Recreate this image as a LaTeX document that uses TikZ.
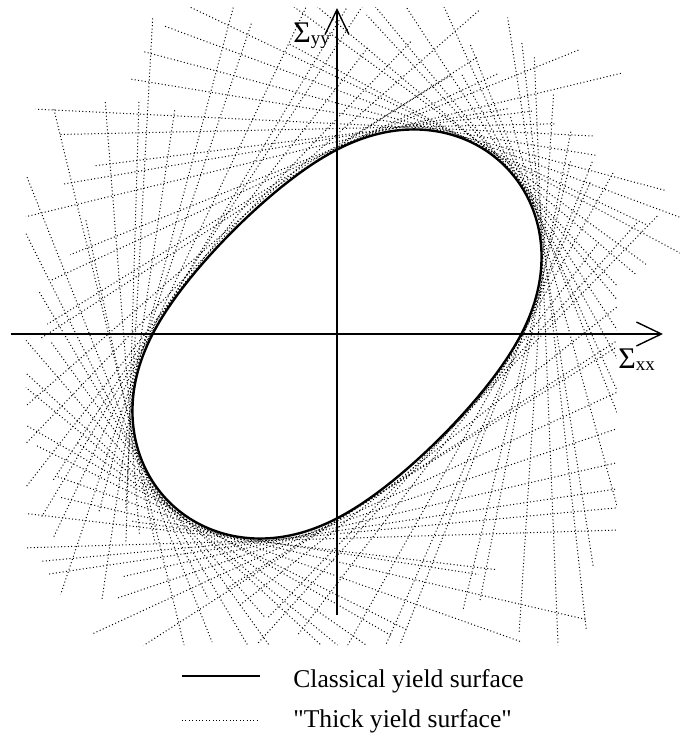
\documentclass[tikz,border=0pt]{standalone}
\usepackage{fontspec}
\newfontfamily\timesfont{Liberation Serif}
\usetikzlibrary{arrows.meta}

\tikzset{
  axis/.style={line width=0.7pt, -{Straight Barb[length=12.5pt,width=12pt]}},
  classical/.style={line width=1.2pt, line join=round},
  thickys/.style={line width=0.5pt, black, dash pattern=on 0.5pt off 1.2pt},
  legtext/.style={inner sep=0pt, anchor=base west, font=\timesfont\fontsize{12.8}{15}\selectfont},
  axlabel/.style={inner sep=0pt, anchor=base west, font=\timesfont\fontsize{15}{18}\selectfont},
  % surface = sum of two ellipses (units of 100), turned by 45 degrees
  declare function={
    hea(\f)=sqrt((1.375*cos(\f))^2+(1.275*sin(\f))^2);
    heb(\f)=sqrt((1.0*cos(\f))^2+(0.19*sin(\f))^2);
    pu(\f)=100*(1.375^2*cos(\f)/hea(\f)+1.0*cos(\f)/heb(\f));
    pv(\f)=100*(1.275^2*sin(\f)/hea(\f)+0.19^2*sin(\f)/heb(\f));
    surfx(\t)=0.7071*(pu(\t-45)-pv(\t-45));
    surfy(\t)=0.7071*(pu(\t-45)+pv(\t-45));
    hsup(\t)=100*(hea(\t-45)+heb(\t-45));
  }
}
\newcommand{\sub}[1]{\raisebox{-1pt}{\fontsize{9.5}{10}\selectfont #1}}

\begin{document}
\begin{tikzpicture}[x=0.5pt, y=0.5pt]
\useasboundingbox (-337,-407) rectangle (344,334);

% thick yield surface: tangent planes
\pgfmathsetseed{20}
\begin{scope}
\clip (-311,-311) -- (280,-311) -- (280,60) -- (343,60) -- (343,327) -- (-311,327) -- cycle;
\foreach \k in {0,...,71}{
  \pgfmathsetmacro\th{5*\k+2.5*rand}
  \pgfmathsetmacro\hh{hsup(\th)+0.6+2.4*rnd}
  \pgfmathsetmacro\st{-surfx(\th)*sin(\th)+surfy(\th)*cos(\th)}
  \pgfmathsetmacro\ra{270+120*rnd}
  \pgfmathsetmacro\rb{270+120*rnd}
  \pgfmathsetmacro\sa{max(100*sqrt(max((\ra/100)^2-(\hh/100)^2,0)),60-(\st))}
  \pgfmathsetmacro\sb{max(100*sqrt(max((\rb/100)^2-(\hh/100)^2,0)),60+(\st))}
  \draw[thickys] ({(\hh)*cos(\th)+(\sa)*sin(\th)},{(\hh)*sin(\th)-(\sa)*cos(\th)})
    -- ({(\hh)*cos(\th)-(\sb)*sin(\th)},{(\hh)*sin(\th)+(\sb)*cos(\th)});
}
\end{scope}

% classical yield surface
\draw[classical] plot[domain=0:359, samples=360] ({surfx(\x)},{surfy(\x)}) -- cycle;

% axes
\coordinate (xl) at (-326,0);
\coordinate (xr) at (326,0);
\coordinate (yb) at (0,-281);
\coordinate (yt) at (0,326);
\draw[axis] (xl) -- (xr);
\draw[axis] (yb) -- (yt);
\node[axlabel] (sxx) at (281,-34) {Σ\sub{xx}};
\node[axlabel] (syy) at (-44,292) {Σ\sub{yy}};

% legend
\coordinate (la) at (-155,-342);
\coordinate (lb) at (-77,-342);
\coordinate (lc) at (-155,-386);
\coordinate (ld) at (-79,-386);
\draw[classical, line width=1.4pt] (la) -- (lb);
\draw[thickys] (lc) -- (ld);
\node[legtext] (lclass) at (-44,-353) {Classical yield surface};
\node[legtext] (lthick) at (-44,-393) {"Thick yield surface"};
\end{tikzpicture}
\end{document}
